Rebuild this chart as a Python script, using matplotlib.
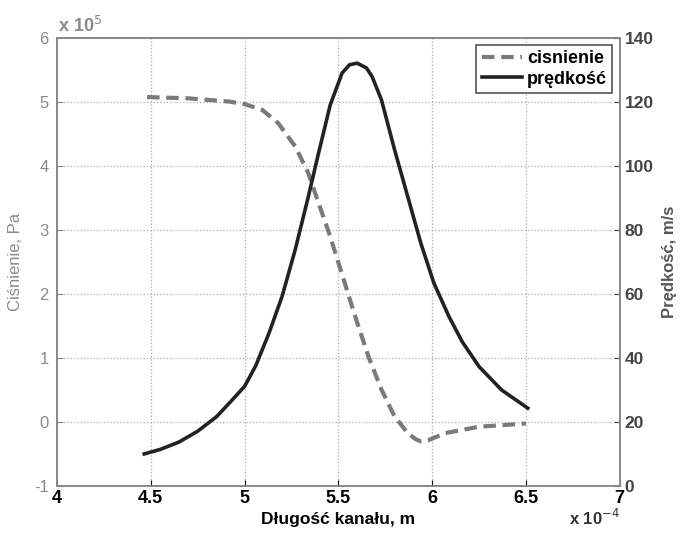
import numpy as np
import matplotlib
matplotlib.use("Agg")
import matplotlib.pyplot as plt

plt.rcParams['font.family'] = ['Liberation Sans', 'DejaVu Sans']
plt.rcParams['axes.unicode_minus'] = False

# x in units of 1e-4 m, pressure in 1e5 Pa, speed in m/s
x_p = [4.48, 4.7, 4.917, 5.0, 5.094, 5.18, 5.27, 5.34, 5.395, 5.45, 5.52, 5.59,
       5.66, 5.73, 5.80, 5.87, 5.91, 5.94, 5.98, 6.07, 6.25, 6.5]
p = [5.07, 5.05, 5.0, 4.96, 4.87, 4.66, 4.30, 3.88, 3.41, 2.95, 2.30, 1.64,
     1.02, 0.50, 0.08, -0.18, -0.27, -0.31, -0.29, -0.18, -0.08, -0.03]

x_v = [4.465, 4.55, 4.65, 4.75, 4.85, 4.93, 5.0, 5.06, 5.13, 5.20, 5.27, 5.34,
       5.395, 5.457, 5.52, 5.56, 5.60, 5.65, 5.68, 5.73, 5.80, 5.87, 5.94, 6.01,
       6.09, 6.16, 6.25, 6.37, 6.51]
v = [9.9, 11.3, 13.6, 17.0, 21.5, 26.5, 31.0, 37.5, 47.6, 59.1, 73.7, 90.3,
     104.0, 119.0, 128.9, 131.5, 132.0, 130.5, 127.8, 120.5, 104.9, 90.3, 75.7,
     63.2, 52.8, 45.0, 37.2, 29.9, 24.2]

xticks = [4, 4.5, 5, 5.5, 6, 6.5, 7]
xticklabels = ['4', '4.5', '5', '5.5', '6', '6.5', '7']

fig = plt.figure(figsize=(6.82, 5.36), dpi=100)
ax = fig.add_axes([0.0836, 0.094, 0.825, 0.836])
ax2 = ax.twinx()

l1, = ax.plot(x_p, p, '--', color='#7a7a7a', lw=3, dashes=(3, 1.6))
l2, = ax2.plot(x_v, v, '-', color='#222222', lw=2.6, solid_joinstyle='round')

ax.set_xlim(4, 7)
ax.set_ylim(-1, 6)
ax2.set_ylim(0, 140)
ax.set_xticks(xticks)
ax.set_xticklabels(xticklabels, fontsize=13, fontweight='bold')
ax.set_yticks(range(-1, 7))
ax.tick_params(axis='y', colors='#8a8a8a', labelsize=12, direction='in', length=4, pad=6)
ax.tick_params(axis='x', direction='in', length=4, pad=3)
ax2.set_yticks(range(0, 141, 20))
ax2.tick_params(axis='y', direction='in', length=4, labelsize=12.5, colors='#444444')
for t in ax2.get_yticklabels():
    t.set_fontweight('bold')
ax.grid(True, linestyle=':', color='#aaaaaa', lw=0.9)

for s in ax.spines.values():
    s.set_color('#888888')
    s.set_linewidth(1.2)
for s in ax2.spines.values():
    s.set_color('#888888')
    s.set_linewidth(1.2)

ax.set_xlabel('Długość kanału, m', fontsize=12.5, fontweight='bold', labelpad=4)
ax.set_ylabel('Ciśnienie, Pa', fontsize=12, color='#8a8a8a', labelpad=8)
ax2.set_ylabel('Prędkość, m/s', fontsize=12, color='#555555', fontweight='bold', labelpad=6)

fig.text(0.085, 0.94, 'x 10$^{5}$', fontsize=13, color='#8a8a8a', fontweight='bold')
fig.text(0.835, 0.02, 'x 10$^{-4}$', fontsize=12, color='#333333', fontweight='bold')

leg = ax.legend([l1, l2], ['cisnienie', 'prędkość'], loc='upper right',
                prop={'weight': 'bold', 'size': 13}, fancybox=False,
                framealpha=1, edgecolor='#555555', handlelength=2.2,
                borderaxespad=0.4, handletextpad=0.3, borderpad=0.3,
                labelspacing=0.2)
leg.get_frame().set_linewidth(1.2)

plt.savefig('out.png', dpi=100)
